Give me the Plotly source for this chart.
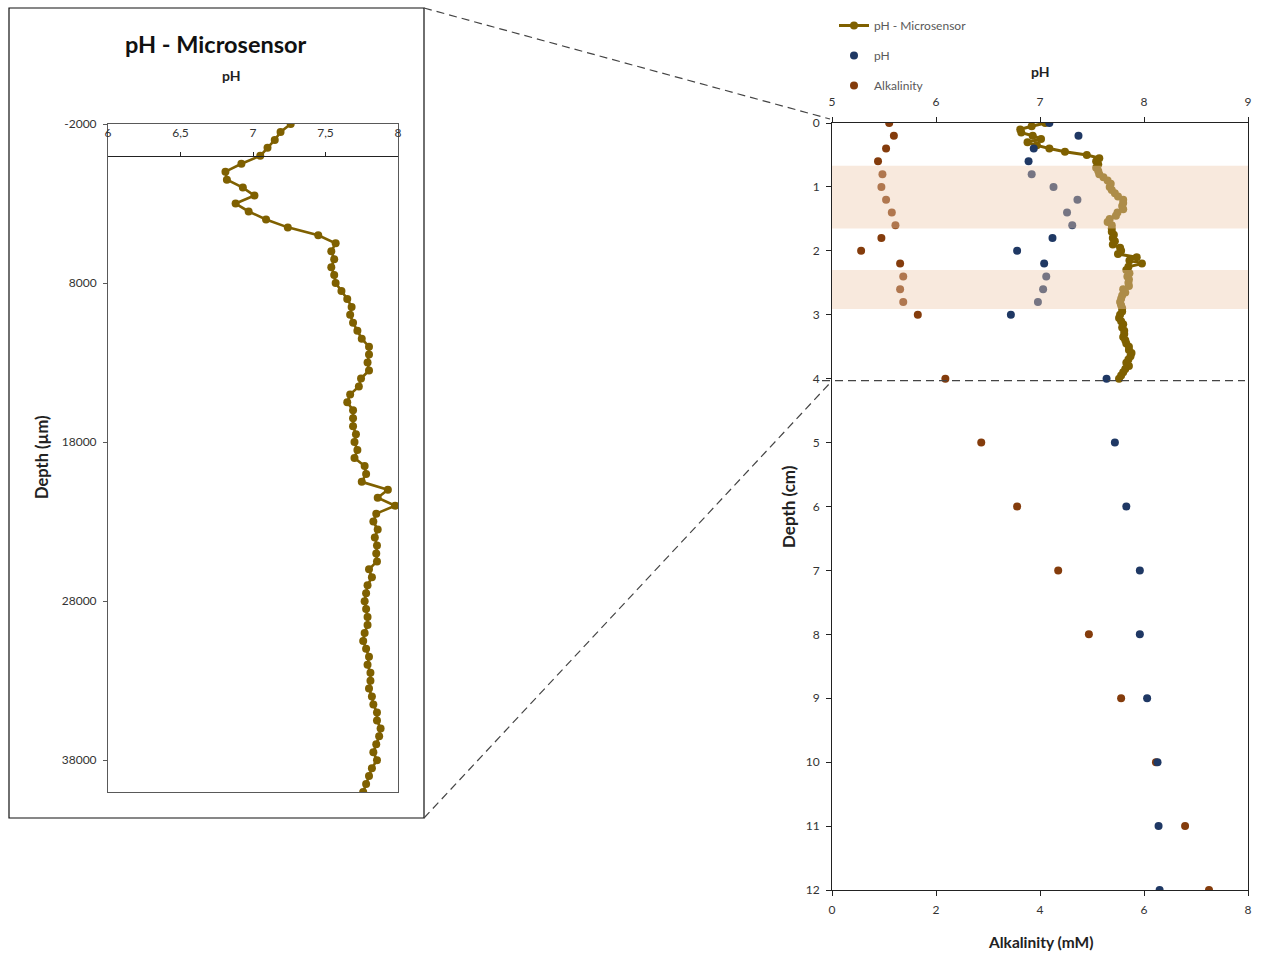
import plotly.graph_objects as go

# ---------------- data ----------------
# Microsensor profile (depth in µm, pH)
depth_um = [-2000, -1500, -1000, -500, 0, 500, 1000, 1500, 2000, 2500, 3000, 3500,
            4000, 4500, 5000, 5500, 6000, 6500, 7000, 7500, 8000, 8500, 9000, 9500,
            10000, 10500, 11000, 11500, 12000, 12500, 13000, 13500, 14000, 14500,
            15000, 15500, 16000, 16500, 17000, 17500, 18000, 18500, 19000, 19500,
            20000, 20500, 21000, 21500, 22000, 22500, 23000, 23500, 24000, 24500,
            25000, 25500, 26000, 26500, 27000, 27500, 28000, 28500, 29000, 29500,
            30000, 30500, 31000, 31500, 32000, 32500, 33000, 33500, 34000, 34500,
            35000, 35500, 36000, 36500, 37000, 37500, 38000, 38500, 39000, 39500,
            40000]
ph_micro = [7.26, 7.19, 7.15, 7.10, 7.05, 6.92, 6.81, 6.82, 6.93, 7.01, 6.88, 6.97,
            7.09, 7.24, 7.45, 7.57, 7.54, 7.56, 7.54, 7.56, 7.57, 7.61, 7.65, 7.68,
            7.67, 7.69, 7.72, 7.75, 7.80, 7.80, 7.79, 7.80, 7.745, 7.73,
            7.67, 7.65, 7.69, 7.69, 7.69, 7.71, 7.70, 7.72, 7.70, 7.77,
            7.78, 7.75, 7.93, 7.86, 7.98, 7.85, 7.83, 7.86, 7.84, 7.855,
            7.85, 7.855, 7.80, 7.82, 7.79, 7.78, 7.77, 7.78, 7.79, 7.79,
            7.77, 7.76, 7.78, 7.80, 7.79, 7.81, 7.81, 7.80, 7.82, 7.83,
            7.855, 7.855, 7.88, 7.87, 7.85, 7.83, 7.855, 7.82, 7.80, 7.78,
            7.76]
UM_PER_CM = 10000

# Pore-water samples (depth in cm)
sample_depth_cm = [0, 0.2, 0.4, 0.6, 0.8, 1.0, 1.2, 1.4, 1.6, 1.8, 2.0, 2.2, 2.4,
                   2.6, 2.8, 3.0, 4, 5, 6, 7, 8, 9, 10, 11, 12]
ph_samples = [7.09, 7.37, 6.94, 6.89, 6.92, 7.13, 7.36, 7.26, 7.31, 7.12, 6.78, 7.04,
              7.06, 7.03, 6.98, 6.72, 7.64, 7.72, 7.83, 7.96, 7.96, 8.03, 8.13, 8.14, 8.15]
alkalinity_mM = [1.10, 1.19, 1.04, 0.885, 0.97, 0.95, 1.04, 1.15, 1.22, 0.95, 0.56, 1.31,
                 1.37, 1.31, 1.37, 1.65, 2.18, 2.87, 3.56, 4.35, 4.94, 5.56, 6.23, 6.79, 7.25]

# Highlighted depth intervals (cm)
band_top_cm = [0.67, 2.30]
band_bottom_cm = [1.65, 2.91]
zoom_depth_cm = 4.03

# Tick labels
left_x_tickvals = [6, 6.5, 7, 7.5, 8]
left_x_ticktext = ["6", "6,5", "7", "7,5", "8"]
left_y_tickvals = [-2000, 8000, 18000, 28000, 38000]
left_y_ticktext = ["-2000", "8000", "18000", "28000", "38000"]
left_zero_ticks = [6.5, 7, 7.5]

# ---------------- styling ----------------
W, H = 1264, 956
FONT = "Lato"
C_MICRO = "#7F6000"
C_PH = "#1F3864"
C_ALK = "#843C0C"
AX = "#595959"
TXT = "#333333"


def px(x):
    return x / W


def py(y):
    return 1 - y / H


left_dom_x = [px(108), px(398)]
left_dom_y = [py(792), py(124)]
right_dom_x = [px(832), px(1248)]
right_dom_y = [py(890), py(123)]

left_y_range = [40000, -2000]
# paper position of depth 0 on the left panel
zero_pos = left_dom_y[1] - (0 - left_y_range[1]) / (left_y_range[0] - left_y_range[1]) * (left_dom_y[1] - left_dom_y[0])

depth_cm_micro = [d / UM_PER_CM for d in depth_um]

fig = go.Figure()

# left panel
fig.add_trace(go.Scatter(x=ph_micro, y=depth_um, xaxis="x", yaxis="y", mode="lines+markers",
                         line=dict(color=C_MICRO, width=2.6), marker=dict(color=C_MICRO, size=8),
                         showlegend=False, hoverinfo="x+y"))
fig.add_trace(go.Scatter(x=[None], y=[None], xaxis="x3", yaxis="y", showlegend=False,
                         hoverinfo="skip"))

# right panel
fig.add_trace(go.Scatter(x=alkalinity_mM, y=sample_depth_cm, xaxis="x2", yaxis="y2",
                         mode="markers", name="Alkalinity", legendgroup="c",
                         marker=dict(color=C_ALK, size=8), legendrank=3))
fig.add_trace(go.Scatter(x=ph_micro, y=depth_cm_micro, xaxis="x4", yaxis="y2",
                         mode="lines+markers", name="pH - Microsensor", legendgroup="a",
                         line=dict(color=C_MICRO, width=3), marker=dict(color=C_MICRO, size=8),
                         legendrank=1))
fig.add_trace(go.Scatter(x=ph_samples, y=sample_depth_cm, xaxis="x4", yaxis="y2",
                         mode="markers", name="pH", legendgroup="b",
                         marker=dict(color=C_PH, size=8), legendrank=2))

tickfont = dict(family=FONT, size=12, color=TXT)

fig.update_layout(
    width=W, height=H,
    margin=dict(l=0, r=0, t=0, b=0, autoexpand=False),
    paper_bgcolor="white", plot_bgcolor="rgba(0,0,0,0)",
    font=dict(family=FONT, color=TXT),
    xaxis=dict(domain=left_dom_x, anchor="y", side="top", range=[6, 8],
               tickvals=left_x_tickvals, ticktext=left_x_ticktext, ticks="",
               ticklabelposition="inside", ticklabeloverflow="allow", ticklabelstandoff=4,
               showline=True, linecolor=AX, linewidth=1, mirror=True,
               showgrid=False, zeroline=False, tickfont=tickfont),
    yaxis=dict(domain=left_dom_y, anchor="x", range=left_y_range,
               tickvals=left_y_tickvals, ticktext=left_y_ticktext,
               ticks="outside", ticklen=4, tickcolor=AX, ticklabelstandoff=4,
               showline=True, linecolor=AX, linewidth=1, mirror=True,
               showgrid=False, zeroline=False, tickfont=tickfont),
    xaxis3=dict(overlaying="x", anchor="free", position=zero_pos, side="top", range=[6, 8],
                tickvals=left_zero_ticks, ticks="outside", ticklen=4, tickcolor="#222",
                showticklabels=False, showline=True, linecolor="#222", linewidth=1,
                showgrid=False, zeroline=False),
    xaxis2=dict(domain=right_dom_x, anchor="y2", side="bottom", range=[0, 8], dtick=2,
                ticks="outside", ticklen=5, tickcolor="#222", ticklabelstandoff=4,
                showline=True, linecolor="#222", linewidth=1,
                showgrid=False, zeroline=False, tickfont=tickfont),
    xaxis4=dict(overlaying="x2", anchor="y2", side="top", range=[5, 9], dtick=1,
                ticks="outside", ticklen=5, tickcolor="#222", ticklabelstandoff=6,
                showline=True, linecolor="#222", linewidth=1,
                showgrid=False, zeroline=False, tickfont=tickfont),
    yaxis2=dict(domain=right_dom_y, anchor="x2", range=[12, 0], dtick=1,
                ticks="outside", ticklen=5, tickcolor="#222", ticklabelstandoff=4,
                showline=True, linecolor="#222", linewidth=1, mirror=True,
                showgrid=False, zeroline=False, tickfont=tickfont),
    legend=dict(x=px(834), y=py(11), xanchor="left", yanchor="top",
                font=dict(family=FONT, size=12, color="#595959"),
                bgcolor="rgba(0,0,0,0)", tracegroupgap=11, itemwidth=30,
                traceorder="grouped"),
    showlegend=True,
)

shapes = []
# highlighted bands (above traces, semi-transparent)
for t, b in zip(band_top_cm, band_bottom_cm):
    shapes.append(dict(type="rect", xref="x2 domain", yref="y2", x0=0, x1=1, y0=t, y1=b,
                       fillcolor="rgba(238,202,174,0.42)", line=dict(width=0), layer="above"))
# frame around left panel
shapes.append(dict(type="rect", xref="paper", yref="paper", x0=px(9), x1=px(424),
                   y0=py(818), y1=py(8), line=dict(color="#111", width=1.2)))
# zoom connector lines
dash = dict(color="#444", width=1.2, dash="8px,5px")
shapes.append(dict(type="line", xref="paper", yref="paper", x0=px(424), y0=py(8),
                   x1=px(830), y1=py(119), line=dash))
shapes.append(dict(type="line", xref="paper", yref="paper", x0=px(424), y0=py(818),
                   x1=px(830), y1=py(383), line=dash))
shapes.append(dict(type="line", xref="paper", yref="y2", x0=px(822), x1=px(1245),
                   y0=zoom_depth_cm, y1=zoom_depth_cm, line=dash))
fig.update_layout(shapes=shapes)

ann = [
    dict(text="<b>pH - Microsensor</b>", x=px(216), y=py(44), size=23.5, angle=0, color="#111"),
    dict(text="<b>pH</b>", x=px(231), y=py(75), size=14, angle=0, color="#222"),
    dict(text="<b>Depth (µm)</b>", x=px(42), y=py(457), size=16.5, angle=-90, color="#222"),
    dict(text="<b>pH</b>", x=px(1040), y=py(72), size=14, angle=0, color="#222"),
    dict(text="<b>Alkalinity (mM)</b>", x=px(1040), y=py(942), size=15.5, angle=0, color="#222"),
    dict(text="<b>Depth (cm)</b>", x=px(788), y=py(507), size=17, angle=-90, color="#222"),
]
for a in ann:
    fig.add_annotation(text=a["text"], x=a["x"], y=a["y"], xref="paper", yref="paper",
                       xanchor="center", yanchor="middle", showarrow=False,
                       textangle=a["angle"], font=dict(family=FONT, size=a["size"], color=a["color"]))

fig.write_html("out.html", config={"displayModeBar": False},
               post_script="document.body.style.margin='0';document.body.style.overflow='hidden';")
